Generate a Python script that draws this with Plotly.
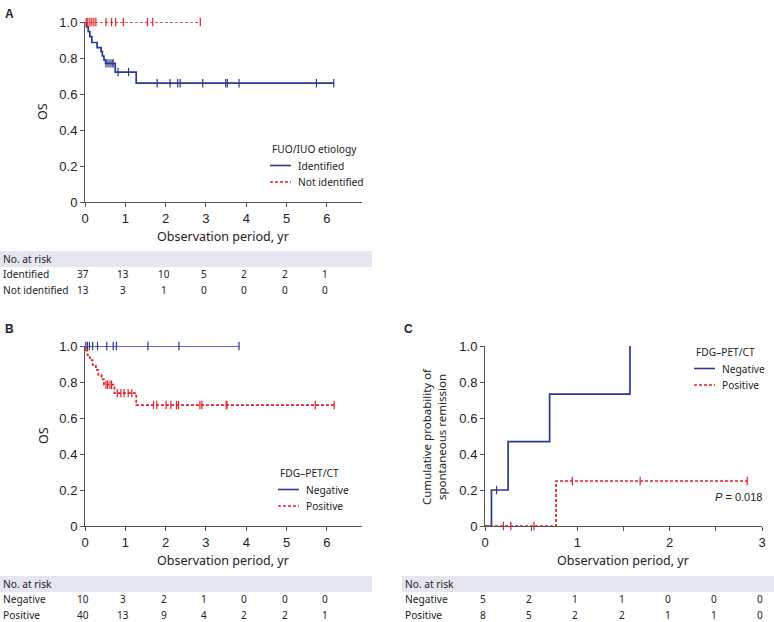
import numpy as np
import plotly.graph_objects as go

W, H = 774, 622
BLUE = "#2b3a8f"
RED = "#e3202a"
TXT = "Noto Sans"
NUM = "Liberation Sans"
AX = "#555555"
INK = "#222222"

# ---------------- Panel A : OS by FUO/IUO etiology ----------------
a_id_time = [0, 0.04, 0.08, 0.12, 0.17, 0.30, 0.40, 0.43, 0.47, 0.51, 0.75, 1.27, 6.17]
a_id_surv = [1.0, 0.973, 0.946, 0.919, 0.886, 0.858, 0.835, 0.811, 0.790, 0.770, 0.722, 0.660, 0.660]
a_id_cens = [0.52, 0.57, 0.62, 0.67, 0.70, 0.82, 1.08, 1.79, 2.11, 2.30, 2.36, 2.92, 3.49, 3.53, 3.82, 5.74, 6.17]
a_ni_time = [0, 2.86]
a_ni_surv = [1.0, 1.0]
a_ni_cens = [0.03, 0.07, 0.12, 0.17, 0.22, 0.27, 0.52, 0.66, 0.76, 0.95, 1.55, 1.68, 2.86]

# ---------------- Panel B : OS by FDG-PET/CT ----------------
b_neg_time = [0, 3.82]
b_neg_surv = [1.0, 1.0]
b_neg_cens = [0.02, 0.06, 0.11, 0.19, 0.31, 0.54, 0.70, 0.78, 1.56, 2.33, 3.82]
b_pos_time = [0, 0.02, 0.06, 0.12, 0.19, 0.27, 0.33, 0.41, 0.47, 0.73, 1.27, 6.18]
b_pos_surv = [1.0, 0.975, 0.95, 0.922, 0.895, 0.867, 0.840, 0.815, 0.785, 0.738, 0.672, 0.672]
b_pos_cens = [0.52, 0.56, 0.62, 0.66, 0.80, 0.89, 0.97, 1.07, 1.16, 1.70, 1.78, 2.01, 2.13,
              2.27, 2.32, 2.85, 2.90, 3.50, 3.52, 5.71, 6.18]

# ---------------- Panel C : cumulative probability of spontaneous remission ----------------
c_neg_time = [0, 0.07, 0.25, 0.70, 1.57]
c_neg_prob = [0.0, 0.20, 0.469, 0.733, 1.0]
c_neg_cens = [0.125]
c_pos_time = [0, 0.77, 2.84]
c_pos_prob = [0.0, 0.25, 0.25]
c_pos_cens = [0.20, 0.28, 0.53, 0.946, 1.68, 2.84]

# ---------------- Numbers at risk ----------------
risk_ab_x = [0, 1, 2, 3, 4, 5, 6]
risk_a_identified = [37, 13, 10, 5, 2, 2, 1]
risk_a_notidentified = [13, 3, 1, 0, 0, 0, 0]
risk_b_negative = [10, 3, 2, 1, 0, 0, 0]
risk_b_positive = [40, 13, 9, 4, 2, 2, 1]
risk_c_x = [0, 0.5, 1, 1.5, 2, 2.5, 3]
risk_c_negative = [5, 2, 1, 1, 0, 0, 0]
risk_c_positive = [8, 5, 2, 2, 1, 1, 0]

y_ticks = [0, 0.2, 0.4, 0.6, 0.8, 1.0]
y_ticktext = ["0", "0.2", "0.4", "0.6", "0.8", "1.0"]


def level_at(times, values, pts):
    t = np.asarray(times)
    v = np.asarray(values)
    idx = np.clip(np.searchsorted(t, np.asarray(pts), side="right") - 1, 0, len(v) - 1)
    return v[idx]


fig = go.Figure()
DASH = "3px,2px"


def add_curve(times, values, cens, color, dash, name, xa, ya):
    fig.add_trace(go.Scatter(
        x=times, y=values, mode="lines", line=dict(color=color, width=1.7, dash=dash, shape="hv"),
        name=name, xaxis=xa, yaxis=ya, showlegend=False, cliponaxis=False, hoverinfo="skip"))
    fig.add_trace(go.Scatter(
        x=cens, y=level_at(times, values, cens), mode="markers",
        marker=dict(symbol="line-ns", size=6, line=dict(color=color, width=1.2)),
        showlegend=False, xaxis=xa, yaxis=ya, cliponaxis=False, hoverinfo="skip"))


add_curve(a_id_time, a_id_surv, a_id_cens, BLUE, "solid", "Identified", "x", "y")
add_curve(a_ni_time, a_ni_surv, a_ni_cens, RED, DASH, "Not identified", "x", "y")
add_curve(b_neg_time, b_neg_surv, b_neg_cens, BLUE, "solid", "Negative", "x2", "y2")
add_curve(b_pos_time, b_pos_surv, b_pos_cens, RED, DASH, "Positive", "x2", "y2")
add_curve(c_neg_time, c_neg_prob, c_neg_cens, BLUE, "solid", "Negative", "x3", "y3")
add_curve(c_pos_time, c_pos_prob, c_pos_cens, RED, DASH, "Positive", "x3", "y3")


def px_x(p):
    return p / W


def px_y(p):
    return 1 - p / H


common_x = dict(showline=True, linecolor=AX, linewidth=1, ticks="outside", ticklen=4, tickcolor=AX,
                showgrid=False, zeroline=False, automargin=False,
                tickfont=dict(family=NUM, size=13, color=INK))
common_y = dict(showline=True, linecolor=AX, linewidth=1, ticks="outside", ticklen=4, tickcolor=AX,
                showgrid=False, zeroline=False, automargin=False,
                tickfont=dict(family=NUM, size=13, color=INK),
                range=[0, 1], tickvals=y_ticks, ticktext=y_ticktext)

fig.update_layout(
    width=W, height=H, margin=dict(l=0, r=0, t=0, b=0, autoexpand=False),
    paper_bgcolor="white", plot_bgcolor="white", showlegend=False,
    xaxis=dict(common_x, domain=[px_x(85), px_x(362)], range=[0, 6.87], anchor="y", tickvals=risk_ab_x),
    yaxis=dict(common_y, domain=[px_y(202), px_y(22)], anchor="x"),
    xaxis2=dict(common_x, domain=[px_x(85), px_x(362)], range=[0, 6.87], anchor="y2", tickvals=risk_ab_x),
    yaxis2=dict(common_y, domain=[px_y(526), px_y(346)], anchor="x2"),
    xaxis3=dict(common_x, domain=[px_x(485), px_x(762)], range=[0, 3], anchor="y3",
                tickvals=[0, 1, 2, 3],
                minor=dict(ticks="outside", ticklen=4, tickcolor=AX, dtick=0.5, tick0=0)),
    yaxis3=dict(common_y, domain=[px_y(526), px_y(346)], anchor="x3"),
)

BAND = "#e6e6f0"
shapes = []
annotations = []


def text(t, x, y, size=10, anchor="left", family=TXT, angle=0):
    annotations.append(dict(text=t, x=px_x(x), y=px_y(y), xref="paper", yref="paper", showarrow=False,
                            xanchor=anchor, yanchor="middle", textangle=angle,
                            font=dict(family=family, size=size, color=INK)))


# panel letters
text("<b>A</b>", 3, 14, 12, family=NUM)
text("<b>B</b>", 3, 329, 12, family=NUM)
text("<b>C</b>", 402, 329, 12, family=NUM)

# axis titles
text("Observation period, yr", 223, 236, 12.5, "center")
text("Observation period, yr", 223, 560, 12.5, "center")
text("Observation period, yr", 623, 560, 12.5, "center")
text("OS", 43, 112, 12.5, "center", angle=-90)
text("OS", 43, 436, 12.5, "center", angle=-90)
text("Cumulative probability of<br>spontaneous remission", 434, 436, 11.5, "center", angle=-90)


def legend(title, x, y, items):
    text(title, x, y, 10.2)
    for i, (label, color, dash) in enumerate(items):
        yy = y + 16.5 * (i + 1)
        shapes.append(dict(type="line", xref="paper", yref="paper", x0=px_x(x), x1=px_x(x + 21),
                           y0=px_y(yy), y1=px_y(yy), line=dict(color=color, width=1.6, dash=dash)))
        text(label, x + 26, yy, 10.2)


legend("FUO/IUO etiology", 270, 149, [("Identified", BLUE, "solid"), ("Not identified", RED, DASH)])
legend("FDG\u2013PET/CT", 278, 473, [("Negative", BLUE, "solid"), ("Positive", RED, DASH)])
legend("FDG\u2013PET/CT", 694, 352, [("Negative", BLUE, "solid"), ("Positive", RED, DASH)])


def risk_table(xref, x_left, x_right, band_top, rows, xs):
    shapes.append(dict(type="rect", xref="paper", yref="paper", x0=px_x(x_left), x1=px_x(x_right),
                       y0=px_y(band_top + 16), y1=px_y(band_top), fillcolor=BAND, line=dict(width=0),
                       layer="below"))
    text("No. at risk", x_left + 1, band_top + 8, 10.2)
    for i, (label, vals) in enumerate(rows):
        yy = band_top + 23 + 16 * i
        text(label, x_left + 1, yy, 10.2)
        for xv, v in zip(xs, vals):
            annotations.append(dict(text=str(v), x=xv, y=px_y(yy), xref=xref, yref="paper", showarrow=False,
                                    xanchor="center", yanchor="middle", xshift=-2,
                                    font=dict(family=TXT, size=10, color=INK)))


risk_table("x", 0, 372, 251, [("Identified", risk_a_identified), ("Not identified", risk_a_notidentified)],
           risk_ab_x)
risk_table("x2", 0, 372, 576, [("Negative", risk_b_negative), ("Positive", risk_b_positive)], risk_ab_x)
risk_table("x3", 402, 774, 576, [("Negative", risk_c_negative), ("Positive", risk_c_positive)], risk_c_x)

text("<i>P</i> = 0.018", 764, 497, 11, "right", family=NUM)

fig.update_layout(shapes=shapes, annotations=annotations)
fig.write_html("out.html", config={"displayModeBar": False, "staticPlot": True},
               post_script="document.body.style.margin='0px';document.body.style.padding='0px';"
                           "document.body.style.overflow='hidden';")
